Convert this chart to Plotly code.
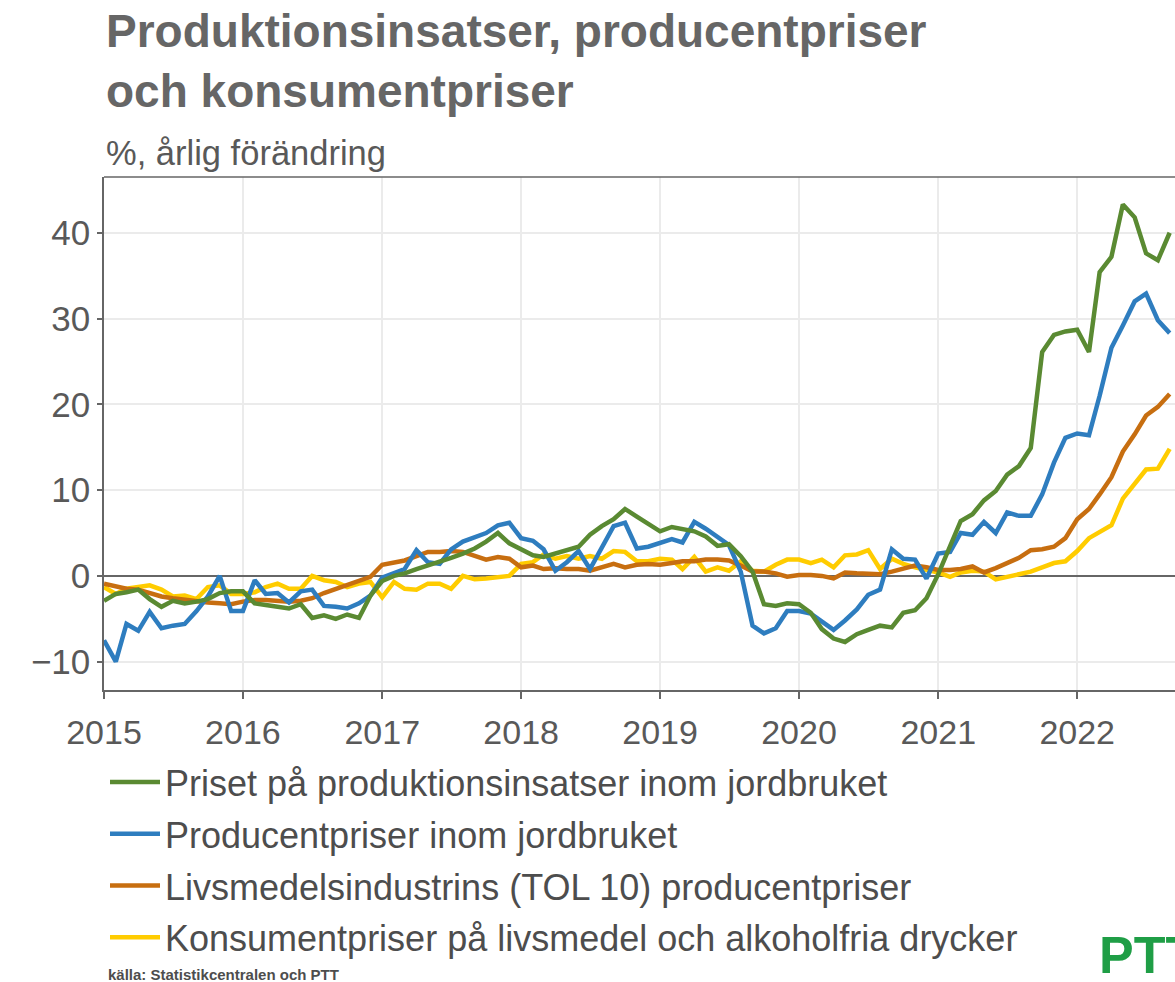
import pandas as pd
import plotly.graph_objects as go

months = pd.date_range("2015-01-01", "2022-09-01", freq="MS")

insatser = [
    -2.9, -2.1, -1.9, -1.6, -2.7, -3.6, -2.9, -3.2, -3.0, -2.7, -2.0, -1.8,
    -1.8, -3.2, -3.4, -3.6, -3.8, -3.3, -4.9, -4.6, -5.0, -4.5, -4.9, -2.3,
    -0.6, 0.0, 0.3, 0.8, 1.2, 1.6, 2.1, 2.6, 3.2, 4.0, 5.0, 3.8,
    3.1, 2.4, 2.2, 2.6, 2.9, 3.4, 4.8, 5.8, 6.6, 7.8, 6.9, 6.0,
    5.2, 5.7, 5.5, 5.2, 4.6, 3.5, 3.7, 2.3, 0.5, -3.3, -3.5, -3.2,
    -3.3, -4.3, -6.2, -7.3, -7.7, -6.8, -6.3, -5.8, -6.0, -4.3, -4.0, -2.6,
    0.2, 3.4, 6.4, 7.2, 8.8, 9.9, 11.8, 12.8, 14.9, 26.1, 28.1, 28.5,
    28.7, 26.1, 35.4, 37.2, 43.3, 41.8, 37.6, 36.8, 40.0,
]
producent_jordbruk = [
    -7.5, -10.0, -5.6, -6.4, -4.2, -6.1, -5.8, -5.6, -4.1, -2.4, 0.0, -4.1,
    -4.1, -0.5, -2.1, -2.0, -3.1, -1.8, -1.6, -3.5, -3.6, -3.8, -3.2, -2.3,
    -0.2, 0.3, 0.8, 3.0, 1.6, 1.4, 3.1, 4.0, 4.5, 5.0, 5.9, 6.2,
    4.4, 4.1, 3.1, 0.6, 1.6, 2.9, 0.8, 3.3, 5.8, 6.2, 3.2, 3.4,
    3.8, 4.3, 3.9, 6.3, 5.5, 4.6, 3.6, 0.5, -5.8, -6.7, -6.1, -4.1,
    -4.1, -4.4, -5.3, -6.3, -5.2, -3.9, -2.2, -1.6, 3.1, 2.0, 1.9, -0.3,
    2.6, 2.8, 5.0, 4.8, 6.3, 5.0, 7.4, 7.0, 7.0, 9.5, 13.2, 16.1,
    16.6, 16.4, 21.0, 26.6, 29.2, 32.0, 32.9, 29.8, 28.3,
]
livsmedelsindustri = [
    -0.9, -1.2, -1.5, -1.6, -2.0, -2.4, -2.6, -2.8, -3.0, -3.1, -3.2, -3.3,
    -3.0, -2.8, -2.8, -2.9, -3.0, -2.9, -2.6, -2.0, -1.5, -1.0, -0.5, -0.1,
    1.3, 1.6, 1.8, 2.3, 2.8, 2.8, 2.9, 2.8, 2.3, 1.9, 2.2, 2.0,
    1.0, 1.2, 0.8, 0.9, 0.8, 0.8, 0.6, 1.0, 1.4, 1.0, 1.3, 1.4,
    1.3, 1.5, 1.7, 1.7, 1.9, 1.9, 1.8, 1.2, 0.5, 0.5, 0.3, -0.1,
    0.1, 0.1, 0.0, -0.3, 0.4, 0.3, 0.2, 0.2, 0.5, 0.9, 1.2, 1.0,
    0.7, 0.7, 0.8, 1.1, 0.4, 0.9, 1.5, 2.1, 3.0, 3.1, 3.4, 4.4,
    6.6, 7.8, 9.5, 11.5, 14.5, 16.5, 18.7, 19.7, 21.2,
]
konsumentpriser = [
    -1.3, -2.1, -1.5, -1.3, -1.1, -1.6, -2.4, -2.3, -2.7, -1.3, -1.1, -2.1,
    -2.1, -1.9, -1.3, -0.9, -1.5, -1.5, 0.0, -0.5, -0.7, -1.3, -0.9, -0.7,
    -2.5, -0.7, -1.5, -1.6, -0.9, -0.9, -1.5, 0.0, -0.4, -0.3, -0.1, 0.0,
    1.4, 1.6, 2.5, 2.0, 2.3, 2.0, 2.3, 2.0, 2.9, 2.8, 1.7, 1.7,
    2.0, 1.9, 0.8, 2.2, 0.5, 1.0, 0.6, 1.7, 0.6, 0.5, 1.3, 1.9,
    1.9, 1.5, 1.9, 1.0, 2.4, 2.5, 3.0, 0.8, 2.0, 1.4, 1.0, 0.7,
    0.4, -0.1, 0.4, 0.6, 0.5, -0.4, -0.1, 0.3, 0.5, 1.0, 1.5, 1.7,
    2.9, 4.4, 5.1, 5.9, 9.0, 10.8, 12.4, 12.5, 14.8,
]

series_names = [
    "Priset på produktionsinsatser inom jordbruket",
    "Producentpriser inom jordbruket",
    "Livsmedelsindustrins (TOL 10) producentpriser",
    "Konsumentpriser på livsmedel och alkoholfria drycker",
]
series_values = [insatser, producent_jordbruk, livsmedelsindustri, konsumentpriser]
series_colors = ["#5a8a32", "#2e7dbf", "#c76e10", "#ffcc00"]

y_ticks = [-10, 0, 10, 20, 30, 40]

FONT = "Liberation Sans, Arial, sans-serif"
GRAY = "#595959"

# figure geometry in page pixels (body margin removed below)
W, H = 1175, 982
ML, MT, MR = 104, 177, 0
PLOT_H = 513
MB = H - MT - PLOT_H
PLOT_W = W - ML - MR


def px(x):
    return (x - ML) / PLOT_W


def py(y):
    return (MT + PLOT_H - y) / PLOT_H


fig = go.Figure()
# yellow drawn first (bottom), green last (top); legend order via legendrank
for i in reversed(range(4)):
    fig.add_trace(go.Scatter(
        x=months, y=series_values[i], mode="lines", name=series_names[i],
        legendgroup=f"g{i}", legendrank=i + 1,
        line=dict(color=series_colors[i], width=4.5),
    ))

fig.update_layout(
    width=W, height=H,
    margin=dict(l=ML, r=MR, t=MT, b=MB, autoexpand=False),
    paper_bgcolor="white", plot_bgcolor="white",
    font=dict(family=FONT, color=GRAY, size=34),
    showlegend=True,
    legend=dict(
        x=px(105), xanchor="left", y=py(752), yanchor="top",
        orientation="v", traceorder="grouped", tracegroupgap=2,
        font=dict(size=36, color="#4d4d4d"), itemwidth=50,
        bgcolor="rgba(0,0,0,0)",
    ),
    xaxis=dict(
        type="date", range=["2015-01-01", "2022-09-15"],
        tick0="2015-01-01", dtick="M12", tickformat="%Y",
        showgrid=True, gridcolor="#ebebeb", gridwidth=1.5,
        showline=True, linecolor="#666666", linewidth=1.5,
        ticks="outside", ticklen=7, tickcolor="#666666", tickwidth=1.5,
        tickfont=dict(size=34, color=GRAY), ticklabelstandoff=4,
        zeroline=False, fixedrange=True,
    ),
    yaxis=dict(
        range=[-13.3, 46.5], tickvals=y_ticks,
        showgrid=True, gridcolor="#ebebeb", gridwidth=1.5,
        showline=True, linecolor="#666666", linewidth=1.5,
        ticks="outside", ticklen=5, tickcolor="#666666", tickwidth=1.5,
        tickfont=dict(size=35, color=GRAY),
        zeroline=True, zerolinecolor="#666666", zerolinewidth=1.5,
        fixedrange=True,
    ),
    shapes=[dict(type="line", xref="paper", yref="paper", x0=0, x1=1, y0=1, y1=1,
                 line=dict(color="#666666", width=1.5))],
    annotations=[
        dict(text="<b>Produktionsinsatser, producentpriser<br>och konsumentpriser</b>",
             xref="paper", yref="paper", x=px(104), y=py(3),
             xanchor="left", yanchor="top", align="left", showarrow=False,
             font=dict(size=46, color="#666666", family=FONT)),
        dict(text="%, årlig förändring",
             xref="paper", yref="paper", x=px(104), y=py(132),
             xanchor="left", yanchor="top", align="left", showarrow=False,
             font=dict(size=34.5, color=GRAY, family=FONT)),
        dict(text="<b>källa: Statistikcentralen och PTT</b>",
             xref="paper", yref="paper", x=px(106), y=py(974),
             xanchor="left", yanchor="middle", align="left", showarrow=False,
             font=dict(size=15, color="#4d4d4d", family=FONT)),
        dict(text="<b>PTT</b>",
             xref="paper", yref="paper", x=px(1097), y=py(955),
             xanchor="left", yanchor="middle", align="left", showarrow=False,
             font=dict(size=52, color="#1f9e46", family=FONT)),
    ],
)

fig.write_html(
    "out.html",
    config={"displayModeBar": False},
    post_script="document.body.style.margin='0';document.body.style.overflow='hidden';",
)
